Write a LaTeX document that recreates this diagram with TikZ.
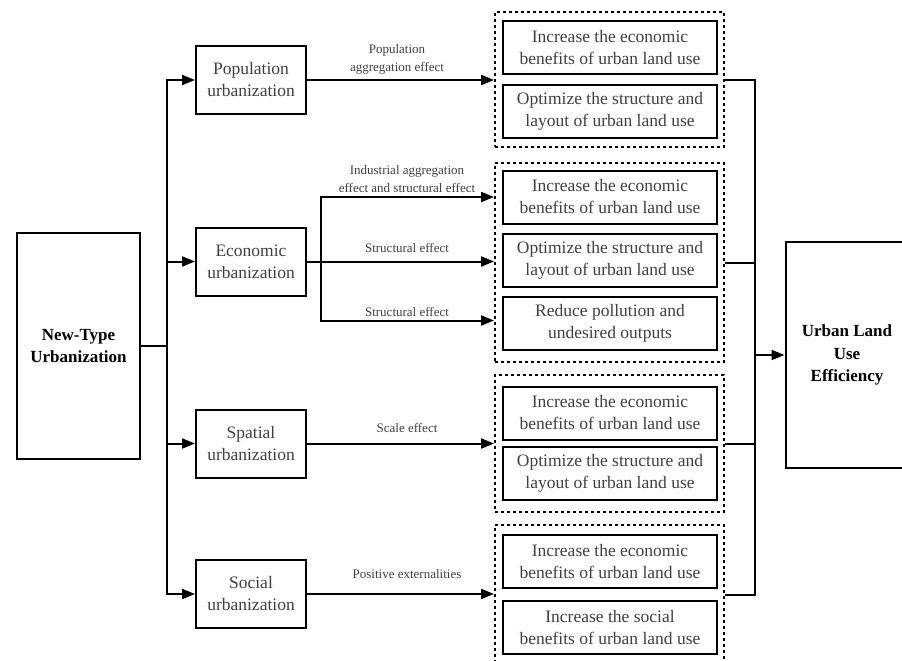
\documentclass[tikz,border=0pt]{standalone}
\usepackage{fontspec}
\setmainfont{Liberation Serif}
\usetikzlibrary{arrows.meta}

\begin{document}
\begin{tikzpicture}[x=1pt, y=-1pt,
  box/.style={draw, line width=2pt, inner sep=0pt, align=center, text=black!75,
    font=\fontsize{17.5}{22}\selectfont},
  midbox/.style={box, minimum width=110pt, minimum height=68pt},
  effbox/.style={box, minimum width=214pt, minimum height=53pt},
  bigbox/.style={box, text=black, minimum width=123pt, minimum height=226pt,
    font=\bfseries\fontsize{17}{22.5}\selectfont},
  groupbox/.style={draw, line width=2pt, dash pattern=on 3pt off 3pt, minimum width=229pt, inner sep=0pt},
  elabel/.style={align=center, inner sep=0pt, text=black!75, font=\fontsize{13}{18}\selectfont},
  line/.style={line width=2pt},
  arrow/.style={line, -{Triangle[length=13pt, width=10pt]}}]
\useasboundingbox (0,0) rectangle (902,661);

% Source and target
\node[bigbox] (ntu) at (78.5,346) {New-Type\\Urbanization};
\node[bigbox] (ulue) at (847,355) {Urban Land\\Use\\Efficiency};

% The four kinds of urbanization
\node[midbox] (pop) at (251,80) {Population\\urbanization};
\node[midbox] (eco) at (251,261.5) {Economic\\urbanization};
\node[midbox] (spa) at (251,443.5) {Spatial\\urbanization};
\node[midbox] (soc) at (251,594) {Social\\urbanization};

% Dotted groups
\node[groupbox, minimum height=135pt] (g1) at (609.5,79.5) {};
\node[groupbox, minimum height=199pt] (g2) at (609.5,262.5) {};
\node[groupbox, minimum height=137pt] (g3) at (609.5,443.5) {};
\node[groupbox, minimum height=139pt] (g4) at (609.5,594.5) {};

% Effects inside the groups
\node[effbox] (g1a) at (610,48) {Increase the economic\\benefits of urban land use};
\node[effbox] (g1b) at (610,111) {Optimize the structure and\\layout of urban land use};
\node[effbox] (g2a) at (610,197) {Increase the economic\\benefits of urban land use};
\node[effbox] (g2b) at (610,260.5) {Optimize the structure and\\layout of urban land use};
\node[effbox] (g2c) at (610,323.5) {Reduce pollution and\\undesired outputs};
\node[effbox] (g3a) at (610,413) {Increase the economic\\benefits of urban land use};
\node[effbox] (g3b) at (610,473) {Optimize the structure and\\layout of urban land use};
\node[effbox] (g4a) at (610,561.5) {Increase the economic\\benefits of urban land use};
\node[effbox] (g4b) at (610,627.5) {Increase the social\\benefits of urban land use};

% Arrow labels
\node[elabel] (l1) at (397,59) {Population\\aggregation effect};
\node[elabel] (l2) at (407,179) {Industrial aggregation\\effect and structural effect};
\node[elabel] (l3) at (407,248) {Structural effect};
\node[elabel] (l4) at (407,312) {Structural effect};
\node[elabel] (l5) at (407,428) {Scale effect};
\node[elabel] (l6) at (407,574) {Positive externalities};

% Left trunk
\coordinate (jl) at (167,346);
\draw[line] (ntu.east) -- (jl);
\draw[arrow] (jl) |- (pop.west);
\draw[arrow] (jl) |- (eco.west);
\draw[arrow] (jl) |- (spa.west);
\draw[arrow] (jl) |- (soc.west);

% Into the groups
\coordinate (je) at (321,261.5);
\draw[arrow] (pop.east) -- (pop.east -| g1.west);
\draw[arrow] (eco.east) -- (eco.east -| g2.west);
\draw[arrow] (je) |- (g2a -| g2.west);
\draw[arrow] (je) |- ([yshift=3pt]g2c -| g2.west);
\draw[arrow] (spa.east) -- (spa.east -| g3.west);
\draw[arrow] (soc.east) -- (soc.east -| g4.west);

% Right trunk
\coordinate (jr) at (755,355);
\draw[line] (g1.east) -| (jr);
\draw[line] (g2.east) -| (jr);
\draw[line] (g3.east) -| (jr);
\draw[line] (g4.east) -| (jr);
\draw[arrow] (jr) -- (ulue.west);
\end{tikzpicture}
\end{document}
